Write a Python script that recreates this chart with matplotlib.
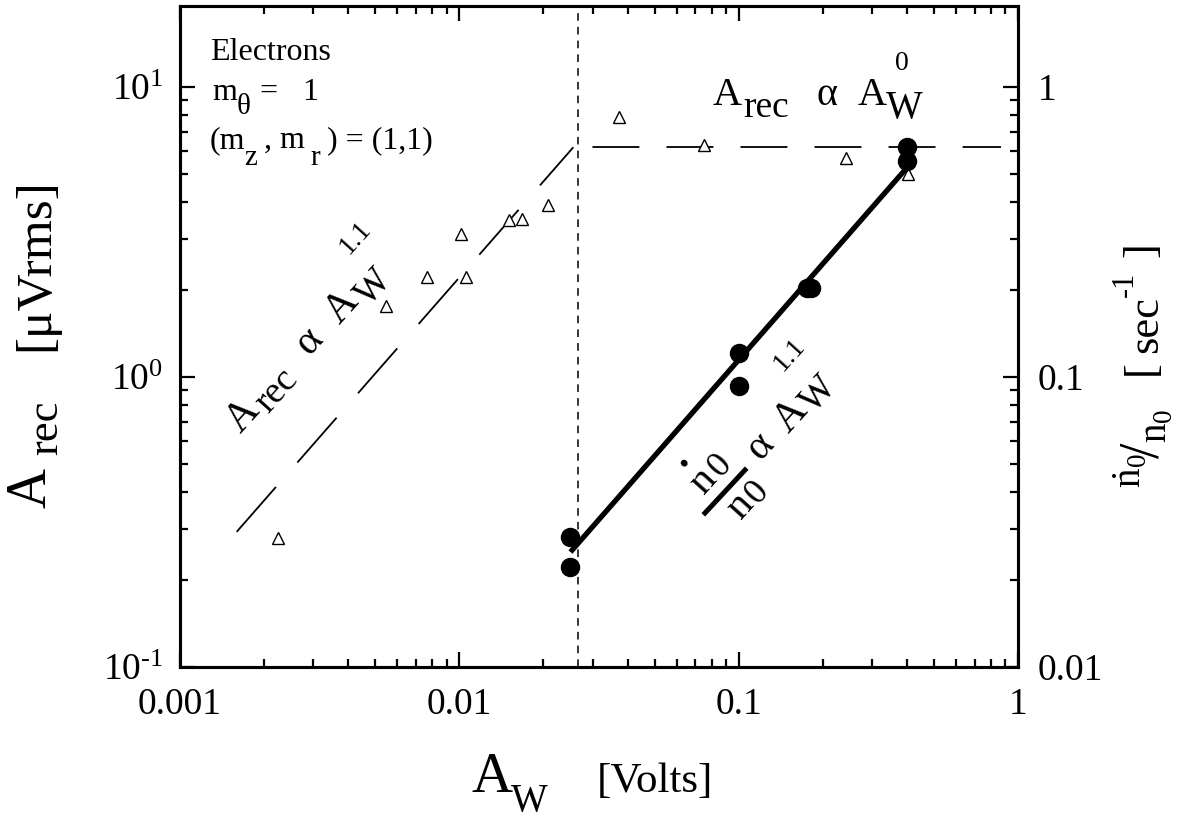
import numpy as np
import matplotlib
matplotlib.use('Agg')
import matplotlib.pyplot as plt
from matplotlib.lines import Line2D
from matplotlib.ticker import FixedLocator, FixedFormatter, LogLocator, NullFormatter

plt.rcParams['font.family'] = ['Liberation Serif', 'DejaVu Serif']
plt.rcParams['mathtext.fontset'] = 'custom'
plt.rcParams['mathtext.rm'] = 'Liberation Serif'
plt.rcParams['mathtext.it'] = 'Liberation Serif:italic'
plt.rcParams['mathtext.default'] = 'regular'

# A_rec (open triangles, left axis)
tri_x = [0.00224, 0.00547, 0.00767, 0.01016, 0.0106, 0.0150, 0.0168, 0.0208, 0.0372, 0.075, 0.242, 0.403]
tri_y = [0.279, 1.75, 2.21, 3.10, 2.21, 3.47, 3.49, 3.91, 7.88, 6.30, 5.68, 5.0]

# n0dot/n0 (filled circles, right axis)
circ_x = [0.025, 0.025, 0.1, 0.1, 0.176, 0.181, 0.40, 0.40]
circ_y = [0.0281, 0.0221, 0.1205, 0.0927, 0.202, 0.202, 0.62, 0.555]

# power law guides
slope = 1.1
rec_coef, rec_range = 349.0, [0.00149, 0.0256]
rate_coef, rate_range = 1.441, [0.025, 0.40]
flat_level, flat_range = 6.2, [0.0267, 0.87]
threshold = 0.0267

x_ticks = [0.001, 0.01, 0.1, 1]
x_labels = ['0.001', '0.01', '0.1', '1']
r_ticks = [0.01, 0.1, 1]
r_labels = ['0.01', '0.1', '1']
l_ticks = [0.1, 1, 10]
l_labels = ['10$^{\u20101}$', '10$^{0}$', '10$^{1}$']

ylim = (0.1, 19.0)

W, H = 1190, 818
fig = plt.figure(figsize=(W / 100, H / 100), dpi=100)
ax = fig.add_axes([180/W, 151/H, 838/W, 661/H])
ax.set_xscale('log')
ax.set_yscale('log')
ax.set_xlim(0.001, 1)
ax.set_ylim(*ylim)

ax2 = ax.twinx()
ax2.set_yscale('log')
ax2.set_ylim(ylim[0] / 10, ylim[1] / 10)

ax.plot(tri_x, tri_y, linestyle='none', marker='^', markersize=9,
        markerfacecolor='white', markeredgecolor='black', markeredgewidth=1.0, zorder=3)

xr = np.array(rec_range)
ax.plot(xr, rec_coef * xr ** slope, color='black', lw=1.3, linestyle=(44, (33, 18)))
ax.plot(flat_range, [flat_level, flat_level], color='black', lw=1.3, linestyle=(33, (26, 15)))
ax.axvline(threshold, color='black', lw=1.1, dashes=(5, 4))

xf = np.array(rate_range)
ax2.plot(xf, rate_coef * xf ** slope, color='black', lw=3.8, solid_capstyle='butt')
ax2.plot(circ_x, circ_y, linestyle='none', marker='o', markersize=13, color='black')

for a in (ax, ax2):
    for s in a.spines.values():
        s.set_linewidth(2.2)

ax.xaxis.set_major_locator(FixedLocator(x_ticks))
ax.xaxis.set_major_formatter(FixedFormatter(x_labels))
ax.xaxis.set_minor_locator(LogLocator(base=10, subs=np.arange(2, 10)))
ax.xaxis.set_minor_formatter(NullFormatter())
ax.yaxis.set_major_locator(FixedLocator(l_ticks))
ax.yaxis.set_major_formatter(FixedFormatter(l_labels))
ax.yaxis.set_minor_locator(LogLocator(base=10, subs=np.arange(2, 10)))
ax.yaxis.set_minor_formatter(NullFormatter())
ax2.yaxis.set_major_locator(FixedLocator(r_ticks))
ax2.yaxis.set_major_formatter(FixedFormatter(r_labels))
ax2.yaxis.set_minor_locator(LogLocator(base=10, subs=np.arange(2, 10)))
ax2.yaxis.set_minor_formatter(NullFormatter())

ax.tick_params(which='both', direction='in', top=True, right=False, width=1.6)
ax.tick_params(which='major', length=11, labelsize=27, pad=12)
ax.tick_params(axis='x', which='major', pad=15)
ax.tick_params(which='minor', length=6)
ax2.tick_params(which='both', direction='in', width=1.6)
ax2.tick_params(which='major', length=11, labelsize=27, pad=14)
ax2.tick_params(which='minor', length=6)


def put(s, x, y, size, rot=0, ha='center', va='center'):
    # place a text piece at pixel position (x, y), y counted from the top
    fig.text(x / W, 1 - y / H, s, fontsize=size, rotation=rot,
             ha=ha, va=va, rotation_mode='anchor')


def bar(x0, y0, x1, y1, lw):
    fig.add_artist(Line2D([x0 / W, x1 / W], [1 - y0 / H, 1 - y1 / H],
                          color='black', lw=lw, transform=fig.transFigure))


# axis titles
put('A', 472, 792, 41, ha='left', va='baseline')
put('W', 511, 811, 28, ha='left', va='baseline')
put('[Volts]', 597, 792, 31, ha='left', va='baseline')

put('[\u03bcVrms]', 36, 265, 37, rot=90)
put('rec', 46, 428, 32, rot=90)
put('A', 31, 488, 40, rot=90)

put(']', 1142, 250, 32, rot=90)
put('\u20101', 1125, 284, 22, rot=90)
put('sec', 1146, 325, 32, rot=90)
put('[', 1142, 368, 32, rot=90)
put('$^{\\dot{n}_0}\\!/_{n_0}$', 1143, 448, 40, rot=90)

# legend block
put('Electrons', 210, 60, 23, ha='left', va='baseline')
put('m', 212, 100, 23, ha='left', va='baseline')
put('\u03b8', 237, 114, 21, ha='left', va='baseline')
put('=', 259, 100, 23, ha='left', va='baseline')
put('1', 302, 100, 23, ha='left', va='baseline')
put('(m', 210, 148, 23, ha='left', va='baseline')
put('z', 244, 165, 21, ha='left', va='baseline')
put(', m', 264, 148, 23, ha='left', va='baseline')
put('r', 310, 165, 21, ha='left', va='baseline')
put(') = (1,1)', 327, 148, 23, ha='left', va='baseline')

# A_rec ~ A_W^0
put('A', 713, 105, 29, ha='left', va='baseline')
put('rec', 743, 117, 27, ha='left', va='baseline')
put('\u03b1', 817, 105, 29, ha='left', va='baseline')
put('A', 858, 105, 29, ha='left', va='baseline')
put('W', 886, 118, 28, ha='left', va='baseline')
put('0', 895, 70, 20, ha='left', va='baseline')

# A_rec ~ A_W^1.1 along the dashed guide
ang = 48
put('A', 243, 416, 30, rot=ang)
put('rec', 277, 391, 27, rot=ang)
put('\u03b1', 309, 341, 30, rot=ang)
put('A', 342, 307, 30, rot=ang)
put('W', 374, 287, 27, rot=ang)
put('1.1', 355, 238, 20, rot=ang)

# n0dot/n0 ~ A_W^1.1 along the solid fit
put('\u2022', 686, 464, 20, rot=ang)
put('n', 703, 480, 30, rot=ang)
put('0', 720, 466, 26, rot=ang)
bar(705, 513, 745, 470, 3.6)
put('n', 740, 505, 30, rot=ang)
put('0', 757, 493, 26, rot=ang)
put('\u03b1', 760, 446, 30, rot=ang)
put('A', 791, 416, 30, rot=ang)
put('W', 819, 394, 27, rot=ang)
put('1.1', 789, 355, 20, rot=ang)

fig.savefig('out.png', dpi=100)
